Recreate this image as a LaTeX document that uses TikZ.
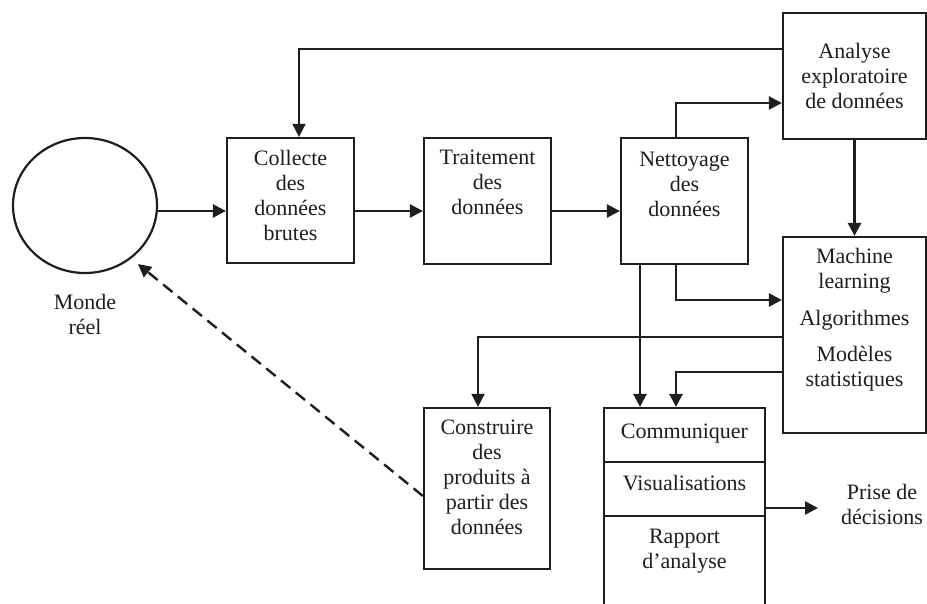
\documentclass[tikz,border=0pt]{standalone}
\usepackage{fontspec}
\setmainfont{Liberation Serif}
\usetikzlibrary{shapes.geometric,arrows.meta,calc}
\definecolor{ink}{RGB}{30,30,30}
\begin{document}
\begin{tikzpicture}[x=1pt,y=-1pt,
  box/.style={draw=ink, line width=2.2pt, inner sep=0pt},
  txt/.style={text=ink, font=\fontsize{22}{25}\selectfont, align=center, inner sep=0pt,
              execute at begin node=\strut, execute at end node=\strut},
  tip/.style={-{Triangle[length=13pt,width=13pt]}},
  thk/.style={draw=ink, line width=2.5pt, tip},
  thn/.style={draw=ink, line width=1.8pt, tip},
  divider/.style={draw=ink, line width=1.6pt},
  dsh/.style={draw=ink, line width=2.4pt, dash pattern=on 12pt off 7pt, tip}]
\useasboundingbox (0,0) rectangle (927,604);
\clip (0,0) rectangle (927,604);
\fill[white] (0,0) rectangle (927,604);

% boxes
\node[ellipse, box, minimum width=144pt, minimum height=135pt] (monde) at (85,205.5) {};
\node[box, minimum width=127pt, minimum height=125pt] (collecte) at (290.5,200.5) {};
\node[box, minimum width=127pt, minimum height=126pt] (traitement) at (487.5,201) {};
\node[box, minimum width=127pt, minimum height=126pt] (nettoyage) at (684.5,201) {};
\node[box, minimum width=143pt, minimum height=126pt] (analyse) at (854.5,76) {};
\node[box, minimum width=143pt, minimum height=196pt] (machine) at (854.5,335) {};
\node[box, minimum width=126pt, minimum height=161pt] (construire) at (487,488.5) {};
\node[box, minimum width=161pt, minimum height=206pt] (comm) at (684.5,511) {};

% helper coordinates
\coordinate (ytop) at (299,49);
\coordinate (ea) at (676,103);
\coordinate (row) at (0,211);
\coordinate (nm) at (676,300);
\coordinate (nc) at (640,0);
\coordinate (mc) at (478,337);
\coordinate (mcomm) at (676,372);
\coordinate (dtip) at (138,264);
\coordinate (dstart) at (0,496);
\coordinate (pd) at (818,508);
\coordinate (dv1) at (0,462);
\coordinate (dv2) at (0,516);

% dividers in Communiquer box
\draw[divider] (comm.west |- dv1) -- (comm.east |- dv1);
\draw[divider] (comm.west |- dv2) -- (comm.east |- dv2);

% texts
\node[txt] (mondeT) at (85,318.5) {Monde\\réel};
\node[txt] (collecteT) at (290.5,199) {Collecte\\des\\données\\brutes};
\node[txt] (traitementT) at (487.5,186) {Traitement\\des\\données};
\node[txt] (nettoyageT) at (684.5,188) {Nettoyage\\des\\données};
\node[txt] (analyseT) at (854.5,80) {Analyse\\exploratoire\\de données};
\node[txt] (machineT) at (854.5,272.5) {Machine\\learning};
\node[txt] (algoT) at (854.5,321) {Algorithmes};
\node[txt] (modT) at (854.5,370.5) {Modèles\\statistiques};
\node[txt] (construireT) at (487,481) {Construire\\des\\produits à\\partir des\\données};
\node[txt] (commT) at (684.5,433) {Communiquer};
\node[txt] (visuT) at (684.5,485) {Visualisations};
\node[txt] (rappT) at (684.5,552.5) {Rapport\\d’analyse};
\node[txt] (prise) at (882,508.5) {Prise de\\décisions};

% connectors
\draw[thk] (monde.east |- row) -- (collecte.west |- row);
\draw[thk] (collecte.east |- row) -- (traitement.west |- row);
\draw[thk] (traitement.east |- row) -- (nettoyage.west |- row);
\draw[thn] (analyse.west |- ytop) -| (collecte.north -| ytop);
\draw[thk] (nettoyage.north -| ea) |- (analyse.west |- ea);
\draw[thk] (analyse.south) -- (machine.north);
\draw[thk] (nettoyage.south -| nm) |- (machine.west |- nm);
\draw[thk] (nettoyage.south -| nc) -- (comm.north -| nc);
\draw[thn] (machine.west |- mc) -| (construire.north -| mc);
\draw[thk] (machine.west |- mcomm) -| (comm.north -| mcomm);
\draw[thk] (comm.east |- pd) -- (pd);
\draw[dsh] (construire.west |- dstart) -- (dtip);
\end{tikzpicture}
\end{document}
